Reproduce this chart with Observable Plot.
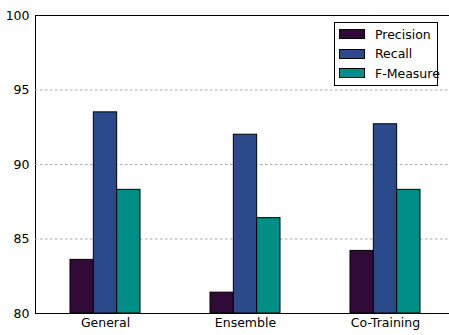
<!DOCTYPE html>
<html>
<head>
<meta charset="utf-8">
<script src="https://cdn.jsdelivr.net/npm/d3@7"></script>
<script src="https://cdn.jsdelivr.net/npm/@observablehq/plot@0.6"></script>
<style>
  html, body { margin: 0; padding: 0; background: #fff; overflow: hidden; }
  #wrap { position: relative; width: 449px; height: 335px; font-family: "DejaVu Sans", sans-serif; }
  #legend { position: absolute; left: 334px; top: 22px; width: 104px; height: 64px; border: 1px solid #000; background: #fff; box-sizing: border-box; }
  .row { position: absolute; left: 4px; height: 12px; display: flex; align-items: center; font-size: 12.5px; color: #000; white-space: nowrap; }
  .sw { width: 26px; height: 10px; border: 1px solid #000; box-sizing: border-box; margin-right: 10px; flex: none; }
</style>
</head>
<body>
<div id="wrap"><div id="legend"></div></div>
<script>
const groups = ["General", "Ensemble", "Co-Training"];
const seriesNames = ["Precision", "Recall", "F-Measure"];
const precision = [83.6, 81.4, 84.2];
const recall = [93.5, 92.0, 92.7];
const fmeasure = [88.3, 86.4, 88.3];
const colors = ["#310b37", "#2b4a8b", "#008f87"];
const yTicks = [80, 85, 90, 95, 100];
const gridTicks = [85, 90, 95];

const seriesValues = [precision, recall, fmeasure];
const data = [];
seriesNames.forEach((s, si) => groups.forEach((g, gi) => data.push({group: g, series: s, value: seriesValues[si][gi]})));

const bw = 70 / 3;
const insets = [[0, 2 * bw], [bw, bw], [2 * bw, 0]];

const marks = [
  Plot.ruleY(gridTicks, {y: d => d, stroke: "#aaaaaa", strokeDasharray: "2.5,2.5", strokeWidth: 1})
];
seriesNames.forEach((s, si) => {
  marks.push(Plot.barY(data.filter(d => d.series === s), {
    x: "group", y1: 80, y2: "value",
    fill: colors[si], stroke: "#000", strokeWidth: 1,
    insetLeft: insets[si][0], insetRight: insets[si][1]
  }));
});
marks.push(Plot.ruleY([80, 100], {stroke: "#000", strokeWidth: 1}));

const chart = Plot.plot({
  width: 460, height: 335,
  marginLeft: 35, marginRight: 5, marginTop: 15, marginBottom: 22,
  style: {fontFamily: "DejaVu Sans, sans-serif", fontSize: "12.5px", color: "#000", background: "transparent", overflow: "hidden"},
  x: {domain: groups, range: [35, 455], paddingInner: 0.5, paddingOuter: 0.25, align: 0.5, tickSize: 0, tickPadding: 5, label: null},
  y: {domain: [80, 100], ticks: yTicks, tickFormat: d => String(d), tickSize: 0, tickPadding: 6, label: null, line: true},
  marks
});
chart.style.maxWidth = "none";
document.getElementById("wrap").prepend(chart);

const legend = document.getElementById("legend");
seriesNames.forEach((s, i) => {
  const row = document.createElement("div");
  row.className = "row";
  row.style.top = (5 + i * 19.6) + "px";
  const sw = document.createElement("div");
  sw.className = "sw";
  sw.style.background = colors[i];
  row.appendChild(sw);
  const t = document.createElement("span");
  t.textContent = s;
  row.appendChild(t);
  legend.appendChild(row);
});
</script>
</body>
</html>
